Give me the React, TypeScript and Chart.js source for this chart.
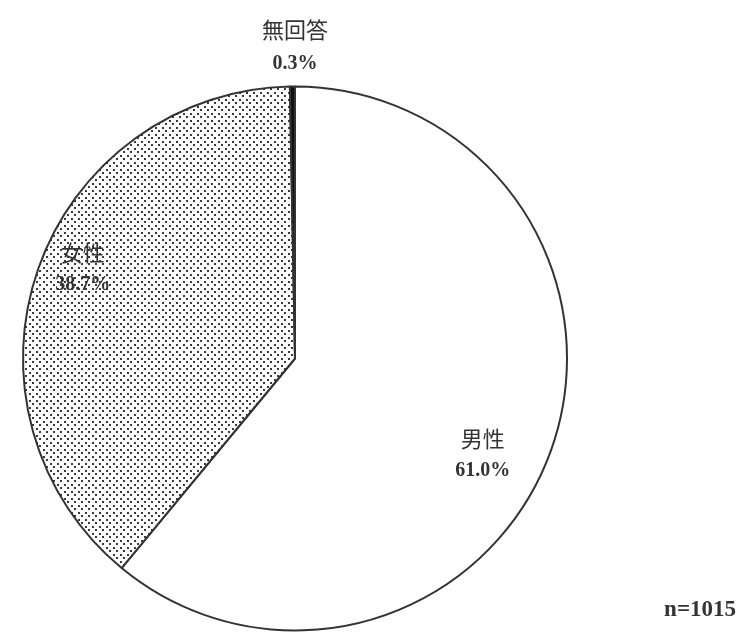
import React, { useEffect, useRef } from "react";
import { Chart, registerables } from "chart.js";

Chart.register(...registerables);

const categories = ["男性", "女性", "無回答"];
const percentages = [61.0, 38.7, 0.3];
const percentLabels = ["61.0%", "38.7%", "0.3%"];
const sampleNote = "n=1015";

function makeDotPattern(): CanvasPattern | string {
  const c = document.createElement("canvas");
  c.width = 7;
  c.height = 7;
  const g = c.getContext("2d");
  if (!g) return "#ccc";
  g.fillStyle = "#ffffff";
  g.fillRect(0, 0, 7, 7);
  g.fillStyle = "#3a3a3a";
  g.fillRect(1, 1, 2, 2);
  g.fillRect(4, 4, 2, 2);
  const p = g.createPattern(c, "repeat");
  return p || "#ccc";
}

const labelPlacement: Record<number, { dx: number; dy: number }> = {
  0: { dx: 0.69, dy: 0.355 },
  1: { dx: -0.78, dy: -0.33 },
};

const labelPlugin = {
  id: "pieLabels",
  afterDraw(chart: any) {
    const meta = chart.getDatasetMeta(0);
    const ctx = chart.ctx;
    const arc0 = meta.data[0];
    if (!arc0) return;
    const cx = arc0.x;
    const cy = arc0.y;
    const r = arc0.outerRadius;
    ctx.save();
    ctx.textAlign = "center";
    ctx.textBaseline = "middle";
    ctx.fillStyle = "#333333";
    categories.forEach((name, i) => {
      let x: number, y1: number, y2: number;
      if (labelPlacement[i]) {
        x = cx + labelPlacement[i].dx * r;
        const yc = cy + labelPlacement[i].dy * r;
        y1 = yc - 16;
        y2 = yc + 16;
      } else {
        x = cx;
        y1 = cy - r - 57;
        y2 = cy - r - 23;
      }
      ctx.font = "22px 'Noto Sans CJK JP', 'DejaVu Serif', serif";
      ctx.fillText(name, x, y1);
      ctx.font = "bold 20px 'Liberation Serif', serif";
      ctx.fillText(percentLabels[i], x, y2);
    });
    ctx.font = "bold 23px 'Liberation Serif', serif";
    ctx.textAlign = "right";
    ctx.fillText(sampleNote, chart.width - 2, cy + r - 20);
    ctx.restore();
  },
};

export default function App() {
  const ref = useRef<HTMLCanvasElement | null>(null);
  useEffect(() => {
    if (!ref.current) return;
    const chart = new Chart(ref.current, {
      type: "pie",
      data: {
        labels: categories,
        datasets: [
          {
            data: percentages,
            backgroundColor: ["#ffffff", makeDotPattern() as any, "#111111"],
            borderColor: "#333333",
            borderWidth: 2,
          },
        ],
      },
      options: {
        animation: false,
        responsive: false,
        maintainAspectRatio: false,
        layout: { padding: { top: 85, bottom: 3, left: 22, right: 170 } },
        plugins: {
          legend: { display: false },
          tooltip: { enabled: false },
        },
      },
      plugins: [labelPlugin],
    });
    return () => chart.destroy();
  }, []);
  return (
    <div style={{ position: "fixed", left: 0, top: 0, width: 738, height: 635, background: "#fff" }}>
      <canvas ref={ref} width={738} height={635} style={{ width: 738, height: 635 }} />
    </div>
  );
}
